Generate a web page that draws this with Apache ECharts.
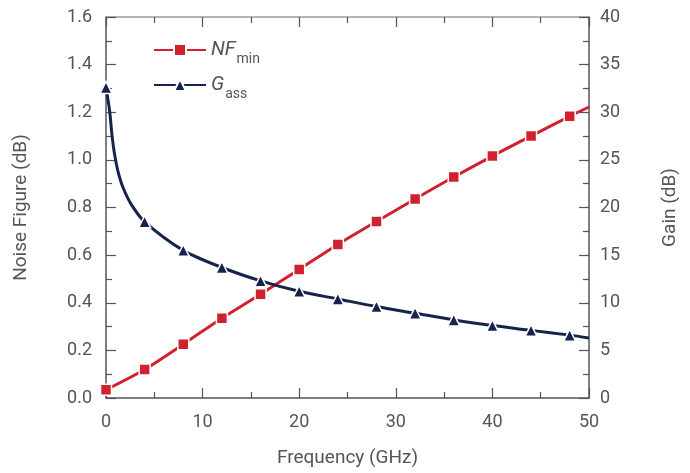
<!DOCTYPE html>
<html>
<head>
<meta charset="utf-8">
<script src="https://cdn.jsdelivr.net/npm/echarts@6/dist/echarts.min.js"></script>
<style>html,body{margin:0;padding:0;background:#fff}#c{width:690px;height:473px}</style>
</head>
<body>
<div id="c"></div>
<script>
// ---- data ----
var nfFreq = [0, 4, 8, 12, 16, 20, 24, 28, 32, 36, 40, 44, 48, 50];
var nfValues = [0.035, 0.12, 0.226, 0.335, 0.436, 0.54, 0.645, 0.741, 0.836, 0.928, 1.016, 1.10, 1.183, 1.222];
var gainFreq = [0, 0.38, 0.62, 0.9, 1.24, 1.76, 2.63, 4, 8, 12, 16, 20, 24, 28, 32, 36, 40, 44, 48, 50];
var gainValues = [32.6, 30.1, 27.6, 25.5, 23.8, 22.1, 20.3, 18.5, 15.5, 13.7, 12.3, 11.2, 10.4, 9.6, 8.9, 8.2, 7.6, 7.1, 6.6, 6.3];
var markerFreqs = [0, 4, 8, 12, 16, 20, 24, 28, 32, 36, 40, 44, 48];
var xTicks = [0, 10, 20, 30, 40, 50];
var leftTicks = [0.0, 0.2, 0.4, 0.6, 0.8, 1.0, 1.2, 1.4, 1.6];
var rightTicks = [0, 5, 10, 15, 20, 25, 30, 35, 40];

var RED = '#d0222e', NAVY = '#16234d', TXT = '#555555', AX = '#555555';

function build(fr, vals) {
  return fr.map(function (f, i) {
    var isMarker = markerFreqs.indexOf(f) >= 0;
    return isMarker ? { value: [f, vals[i]] } : { value: [f, vals[i]], symbol: 'none' };
  });
}

var chart = echarts.init(document.getElementById('c'), null, { renderer: 'canvas' });
var font = 'Roboto, "Liberation Sans", sans-serif';
var axisCommon = function () {
  return {
    axisLine: { show: true, onZero: false, lineStyle: { color: AX, width: 1.5 } },
    axisTick: { show: true, inside: true, length: 10, lineStyle: { color: AX, width: 1.2 } },
    minorTick: { show: true, splitNumber: 2, length: 6, lineStyle: { color: AX, width: 1.2 } },
    splitLine: { show: false },
    axisLabel: { color: TXT, fontSize: 18, fontFamily: font }
  };
};

var xBottom = Object.assign(axisCommon(), {
  type: 'value', min: xTicks[0], max: xTicks[xTicks.length - 1], interval: 10, position: 'bottom',
  name: 'Frequency (GHz)', nameLocation: 'middle', nameGap: 51,
  nameTextStyle: { color: TXT, fontSize: 19, fontFamily: font }
});
xBottom.axisLabel.margin = 15;
var xTop = Object.assign(axisCommon(), {
  type: 'value', min: 0, max: 50, interval: 10, position: 'top'
});
xTop.axisLabel = { show: false };
xTop.axisLine.lineStyle = { color: '#9a9a9a', width: 1.5 };

var yLeft = Object.assign(axisCommon(), {
  type: 'value', min: leftTicks[0], max: leftTicks[leftTicks.length - 1], interval: 0.2, position: 'left',
  name: 'Noise Figure (dB)', nameLocation: 'middle', nameGap: 75, nameRotate: 90,
  nameTextStyle: { color: TXT, fontSize: 19, fontFamily: font }
});
yLeft.axisLabel.formatter = function (v) { return v.toFixed(1); };
yLeft.axisLabel.margin = 14;
var yRight = Object.assign(axisCommon(), {
  type: 'value', min: rightTicks[0], max: rightTicks[rightTicks.length - 1], interval: 5, position: 'right',
  name: 'Gain (dB)', nameLocation: 'middle', nameGap: 72, nameRotate: 90,
  nameTextStyle: { color: TXT, fontSize: 19, fontFamily: font }
});
yRight.axisLabel.margin = 11;

chart.setOption({
  animation: false,
  backgroundColor: '#ffffff',
  grid: { left: 106, right: 101, top: 17, bottom: 74 },
  xAxis: [xBottom, xTop],
  yAxis: [yLeft, yRight],
  legend: {
    orient: 'vertical', left: 148, top: 35, itemWidth: 52, itemHeight: 15, itemGap: 9,
    data: ['NFmin', 'Gass'],
    formatter: function (n) {
      return n === 'NFmin' ? '{i|NF}{s|min}' : '{i|G}{s|ass}';
    },
    textStyle: {
      color: TXT, fontFamily: font,
      rich: {
        i: { fontStyle: 'italic', fontSize: 20, color: TXT, fontFamily: font, lineHeight: 24 },
        s: { fontSize: 14, color: TXT, fontFamily: font, verticalAlign: 'bottom', lineHeight: 12, padding: [0, 0, -4, 1] }
      }
    }
  },
  series: [
    {
      name: 'NFmin', type: 'line', xAxisIndex: 0, yAxisIndex: 0,
      data: build(nfFreq, nfValues), smooth: 0.3,
      symbol: 'rect', symbolSize: 11, showAllSymbol: true,
      lineStyle: { color: RED, width: 3 },
      itemStyle: { color: RED, borderColor: '#ffffff', borderWidth: 1.5 }
    },
    {
      name: 'Gass', type: 'line', xAxisIndex: 0, yAxisIndex: 1,
      data: build(gainFreq, gainValues), smooth: 0.3,
      symbol: 'triangle', symbolSize: 12, showAllSymbol: true,
      lineStyle: { color: NAVY, width: 3 },
      itemStyle: { color: NAVY, borderColor: '#ffffff', borderWidth: 1.5 }
    }
  ]
});
</script>
</body>
</html>
